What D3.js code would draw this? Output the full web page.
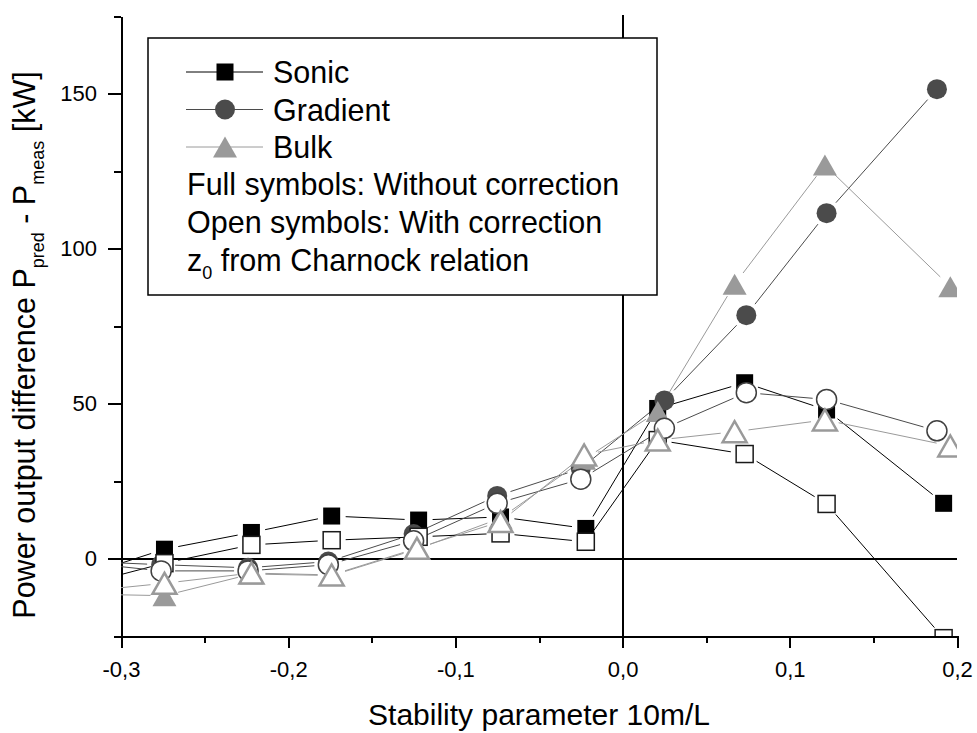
<html>
<script src="https://d3js.org/d3.v7.min.js"></script>
<style>
body { margin: 0; background: #fff; }
svg { font-family: Arial, "Liberation Sans", sans-serif; }
.axis path, .axis line { stroke: #000; stroke-width: 2; fill: none; shape-rendering: crispEdges; }
.axis text { font-size: 22px; fill: #000; font-family: Arial, "Liberation Sans", sans-serif; }
</style>
<body>
<svg id="chart" width="977" height="733"></svg>
<script>
// data (first point lies left of the plot and is clipped)
var xSonic    = [-0.32, -0.274, -0.222, -0.174, -0.122, -0.073, -0.022, 0.021, 0.073, 0.122, 0.192];
var xGradient = [-0.32, -0.276, -0.224, -0.176, -0.125, -0.075, -0.025, 0.025, 0.074, 0.122, 0.188];
var xBulk     = [-0.32, -0.274, -0.222, -0.174, -0.123, -0.073, -0.023, 0.021, 0.067, 0.121, 0.196];

var sonicFull    = [-5, 3, 8.4, 13.7, 12.4, 13.4, 9.7, 48.4, 56.7, 47.9, 17.8];
var sonicOpen    = [-8, -1.5, 4.4, 5.9, 7, 8.1, 5.4, 38.2, 33.7, 17.6, -25.7];
var gradientFull = [-1, -2, -3, -1, 7.9, 20.2, 29, 51, 78.5, 111.4, 151.4];
var gradientOpen = [-1.5, -4, -4, -2, 5.7, 17.8, 25.6, 42, 53.5, 51.3, 41.2];
var bulkFull     = [-11.5, -12, -5, -5.5, 3, 13, 32, 47.4, 88.5, 126.9, 87.7];
var bulkOpen     = [-10.5, -8, -4.7, -5.3, 3.3, 11.9, 33.4, 38.2, 40.9, 44.7, 36.3];

var xMajorTicks = [-0.3, -0.2, -0.1, 0, 0.1, 0.2];
var xTickLabels = ["-0,3", "-0,2", "-0,1", "0,0", "0,1", "0,2"];
var xMinorTicks = [-0.25, -0.15, -0.05, 0.05, 0.15];
var yMajorTicks = [0, 50, 100, 150];
var yMinorTicks = [-25, 25, 75, 125, 175];

var legendNames = ["Sonic", "Gradient", "Bulk"];
var legendNotes = ["Full symbols: Without correction", "Open symbols: With correction"];

function draw() {
    var svg = d3.select("#chart");
    var pLeft = 121, pRight = 957, pTop = 16, pBottom = 636;

    var x = d3.scaleLinear().domain([-0.3, 0.2]).range([pLeft, pRight]);
    var y = d3.scaleLinear().domain([-25, 175]).range([pBottom, pTop]);

    svg.append("defs").append("clipPath").attr("id", "plotclip")
        .append("rect").attr("x", pLeft).attr("y", pTop - 1).attr("width", pRight - pLeft).attr("height", pBottom - pTop + 1);

    // zero lines
    svg.append("line").attr("x1", pLeft).attr("x2", pRight).attr("y1", y(0)).attr("y2", y(0))
        .attr("stroke", "#000").attr("stroke-width", 2).attr("shape-rendering", "crispEdges");
    svg.append("line").attr("x1", x(0)).attr("x2", x(0)).attr("y1", pTop - 1).attr("y2", pBottom)
        .attr("stroke", "#000").attr("stroke-width", 2).attr("shape-rendering", "crispEdges");

    // axes
    svg.append("g").attr("class", "axis").attr("transform", "translate(0," + pBottom + ")")
        .call(d3.axisBottom(x).tickValues(xMinorTicks).tickSize(7).tickSizeOuter(0).tickFormat(""));
    svg.append("g").attr("class", "axis").attr("transform", "translate(0," + pBottom + ")")
        .call(d3.axisBottom(x).tickValues(xMajorTicks).tickSize(12).tickPadding(13).tickSizeOuter(0)
            .tickFormat(function(d, i) { return xTickLabels[i]; }));
    svg.append("g").attr("class", "axis").attr("transform", "translate(" + pLeft + ",0)")
        .call(d3.axisLeft(y).tickValues(yMinorTicks).tickSize(7).tickSizeOuter(0).tickFormat(""));
    svg.append("g").attr("class", "axis").attr("transform", "translate(" + pLeft + ",0)")
        .call(d3.axisLeft(y).tickValues(yMajorTicks).tickSize(13).tickPadding(11).tickSizeOuter(0));

    // axis titles
    svg.append("text").attr("x", (pLeft + pRight) / 2).attr("y", 725)
        .attr("text-anchor", "middle").style("font-size", "30px").text("Stability parameter 10m/L");

    var ylab = svg.append("text").attr("transform", "translate(35,345) rotate(-90)")
        .attr("text-anchor", "middle").style("font-size", "30.5px");
    ylab.append("tspan").text("Power output difference P");
    ylab.append("tspan").attr("dy", 9).style("font-size", "18px").text("pred");
    ylab.append("tspan").attr("dy", -9).text(" - P");
    ylab.append("tspan").attr("dy", 9).style("font-size", "18px").text("meas");
    ylab.append("tspan").attr("dy", -9).text(" [kW]");

    // series
    var series = [
        { xs: xSonic,    ys: sonicFull,    shape: "square",   fill: "#000",    stroke: "none",    sw: 0,   line: "#000" },
        { xs: xGradient, ys: gradientFull, shape: "circle",   fill: "#4b4b4b", stroke: "none",    sw: 0,   line: "#4b4b4b" },
        { xs: xBulk,     ys: bulkFull,     shape: "triangle", fill: "#9a9a9a", stroke: "none",    sw: 0,   line: "#9a9a9a" },
        { xs: xSonic,    ys: sonicOpen,    shape: "square",   fill: "#fff",    stroke: "#1a1a1a", sw: 1.5, line: "#000" },
        { xs: xGradient, ys: gradientOpen, shape: "circle",   fill: "#fff",    stroke: "#404040", sw: 1.5, line: "#4b4b4b" },
        { xs: xBulk,     ys: bulkOpen,     shape: "triangle", fill: "#fff",    stroke: "#9a9a9a", sw: 2.5, line: "#9a9a9a" }
    ];

    var plot = svg.append("g").attr("clip-path", "url(#plotclip)");

    // lines stop short of the symbols
    function gapped(xs, ys, gap) {
        var segs = [];
        for (var i = 0; i < xs.length - 1; i++) {
            var x1 = x(xs[i]), y1 = y(ys[i]), x2 = x(xs[i + 1]), y2 = y(ys[i + 1]);
            var dx = x2 - x1, dy = y2 - y1, len = Math.sqrt(dx * dx + dy * dy);
            if (len <= 2 * gap) continue;
            var ux = dx / len, uy = dy / len;
            segs.push([x1 + ux * gap, y1 + uy * gap, x2 - ux * gap, y2 - uy * gap]);
        }
        return segs;
    }

    series.forEach(function(s) {
        plot.selectAll(null).data(gapped(s.xs, s.ys, 14)).enter().append("line")
            .attr("x1", function(d) { return d[0]; }).attr("y1", function(d) { return d[1]; })
            .attr("x2", function(d) { return d[2]; }).attr("y2", function(d) { return d[3]; })
            .attr("stroke", s.line).attr("stroke-width", 1);
    });

    function drawSymbol(g, shape, cx, cy, fill, stroke, sw) {
        var m;
        if (shape == "square") {
            m = g.append("rect").attr("x", cx - 8.5).attr("y", cy - 8.5).attr("width", 17).attr("height", 17);
        } else if (shape == "circle") {
            m = g.append("circle").attr("cx", cx).attr("cy", cy).attr("r", 10);
        } else {
            m = g.append("path").attr("d", "M" + cx + "," + (cy - 10.5) + "L" + (cx - 12) + "," + (cy + 10.5) +
                "L" + (cx + 12) + "," + (cy + 10.5) + "Z");
        }
        m.attr("fill", fill).attr("stroke", stroke).attr("stroke-width", sw);
    }

    series.forEach(function(s) {
        s.xs.forEach(function(v, i) {
            drawSymbol(plot, s.shape, x(v), y(s.ys[i]), s.fill, s.stroke, s.sw);
        });
    });

    // legend
    var lg = svg.append("g");
    lg.append("rect").attr("x", 148).attr("y", 38).attr("width", 509).attr("height", 257)
        .attr("fill", "#fff").attr("stroke", "#000").attr("stroke-width", 1.5);
    legendNames.forEach(function(name, i) {
        var s = series[i];
        var cy = 72 + i * 37.5;
        lg.append("line").attr("x1", 186).attr("x2", 263).attr("y1", cy).attr("y2", cy)
            .attr("stroke", s.line).attr("stroke-width", 1);
        drawSymbol(lg, s.shape, 225, cy, s.fill, "none", 0);
        lg.append("text").attr("x", 273).attr("y", cy + 11).style("font-size", "30.5px").text(name);
    });
    legendNotes.forEach(function(t, i) {
        lg.append("text").attr("x", 187).attr("y", 195 + i * 38).style("font-size", "30.5px").text(t);
    });
    var zt = lg.append("text").attr("x", 187).attr("y", 271).style("font-size", "30.5px");
    zt.append("tspan").text("z");
    zt.append("tspan").attr("dy", 8).style("font-size", "18px").text("0");
    zt.append("tspan").attr("dy", -8).text(" from Charnock relation");
}

draw();
</script>
</body>
</html>
